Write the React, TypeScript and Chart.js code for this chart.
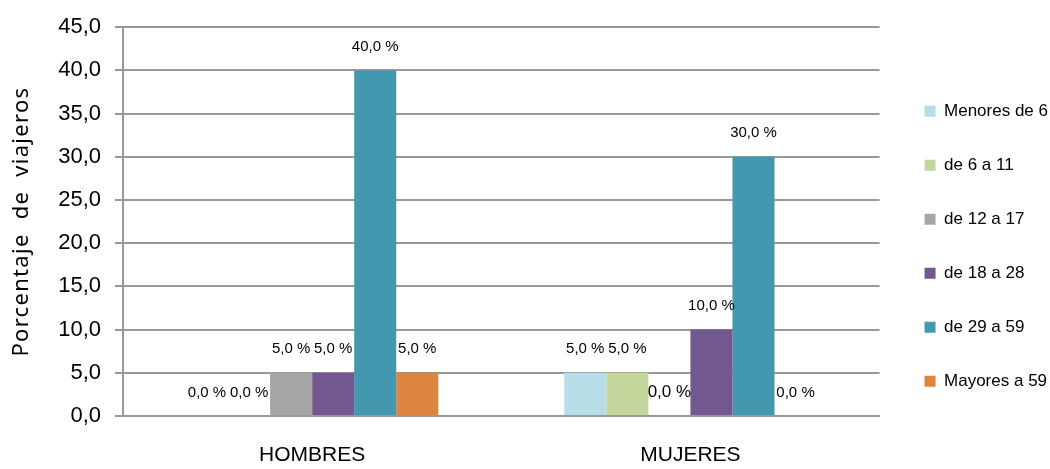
import React, { useEffect, useRef } from "react";
import { Chart, registerables } from "chart.js";

Chart.register(...registerables);

const categories = ["HOMBRES", "MUJERES"];
const seriesNames = ["Menores de 6", "de 6 a 11", "de 12 a 17", "de 18 a 28", "de 29 a 59", "Mayores a 59"];
const menores6 = [0, 5];
const de6a11 = [0, 5];
const de12a17 = [5, 0];
const de18a28 = [5, 10];
const de29a59 = [40, 30];
const mayores59 = [5, 0];
const yTicks = [0, 5, 10, 15, 20, 25, 30, 35, 40, 45];

const colors = ["#B7DDE8", "#C3D69B", "#A6A6A6", "#72588F", "#4398B0", "#DC853E"];
const GRID = "#999999";
const FONT = "'Liberation Sans', Arial, sans-serif";

const fmt = (v: number) => v.toFixed(1).replace(".", ",");

const dataLabels = {
  id: "dataLabels",
  afterDatasetsDraw(chart: any) {
    const ctx = chart.ctx;
    ctx.save();
    ctx.fillStyle = "#000";
    ctx.textAlign = "center";
    ctx.textBaseline = "middle";
    chart.data.datasets.forEach((ds: any, di: number) => {
      const meta = chart.getDatasetMeta(di);
      meta.data.forEach((bar: any, i: number) => {
        const big = di === 2 && i === 1;
        ctx.font = `${big ? 17 : 15}px ${FONT}`;
        ctx.fillText(fmt(ds.data[i]) + " %", bar.x, bar.y - 23.5);
      });
    });
    ctx.restore();
  },
};

const legendShift = {
  id: "legendShift",
  afterLayout(chart: any) {
    const lg = chart.legend;
    if (lg) {
      lg.left += 8;
      lg.right += 8;
    }
  },
  beforeDraw(chart: any) {
    const s = chart.scales.y;
    if (s && !s.__spaced) {
      const orig = s.drawTitle.bind(s);
      s.drawTitle = () => {
        const c = chart.ctx;
        c.save();
        c.letterSpacing = "1.3px";
        orig();
        c.restore();
      };
      s.__spaced = true;
    }
  },
};

export default function App() {
  const ref = useRef<HTMLCanvasElement>(null);
  useEffect(() => {
    document.body.style.margin = "0";
    const series = [menores6, de6a11, de12a17, de18a28, de29a59, mayores59];
    const chart = new Chart(ref.current!, {
      type: "bar",
      data: {
        labels: categories,
        datasets: series.map((d, i) => ({
          label: seriesNames[i],
          data: d,
          backgroundColor: colors[i],
          borderWidth: 0,
          categoryPercentage: 0.667,
          barPercentage: 1.0,
        })),
      },
      options: {
        animation: false,
        responsive: false,
        layout: { padding: { top: 23.5, left: 0, right: 0, bottom: 0 } },
        plugins: {
          tooltip: { enabled: false },
          legend: {
            position: "right",
            align: "center",
            labels: {
              boxWidth: 11,
              boxHeight: 11,
              padding: 37,
              color: "#000",
              font: { family: FONT, size: 17 },
            },
          },
        },
        scales: {
          x: {
            grid: { display: false, drawTicks: false },
            border: { display: true, color: GRID, width: 2 },
            ticks: { color: "#000", padding: 27, font: { family: FONT, size: 21 } },
            afterFit: (s: any) => {
              s.height = 53;
            },
          },
          y: {
            min: 0,
            max: 45,
            afterBuildTicks: (s: any) => {
              s.ticks = yTicks.map((v) => ({ value: v }));
            },
            grid: { color: GRID, lineWidth: 2, tickLength: 8, drawTicks: true },
            border: { display: true, color: GRID, width: 2 },
            ticks: {
              color: "#000",
              padding: 14,
              font: { family: FONT, size: 22 },
              callback: (v: any) => fmt(Number(v)),
            },
            title: {
              display: true,
              text: "Porcentaje  de  viajeros",
              color: "#000",
              padding: { top: 9, bottom: 0 },
              font: { family: "'Noto Sans', sans-serif", size: 22 },
            },
            afterFit: (s: any) => {
              s.width = 123;
            },
          },
        },
      },
      plugins: [dataLabels, legendShift],
    });
    return () => chart.destroy();
  }, []);
  return (
    <div style={{ width: 1050, height: 469 }}>
      <canvas ref={ref} width={1050} height={469} />
    </div>
  );
}
